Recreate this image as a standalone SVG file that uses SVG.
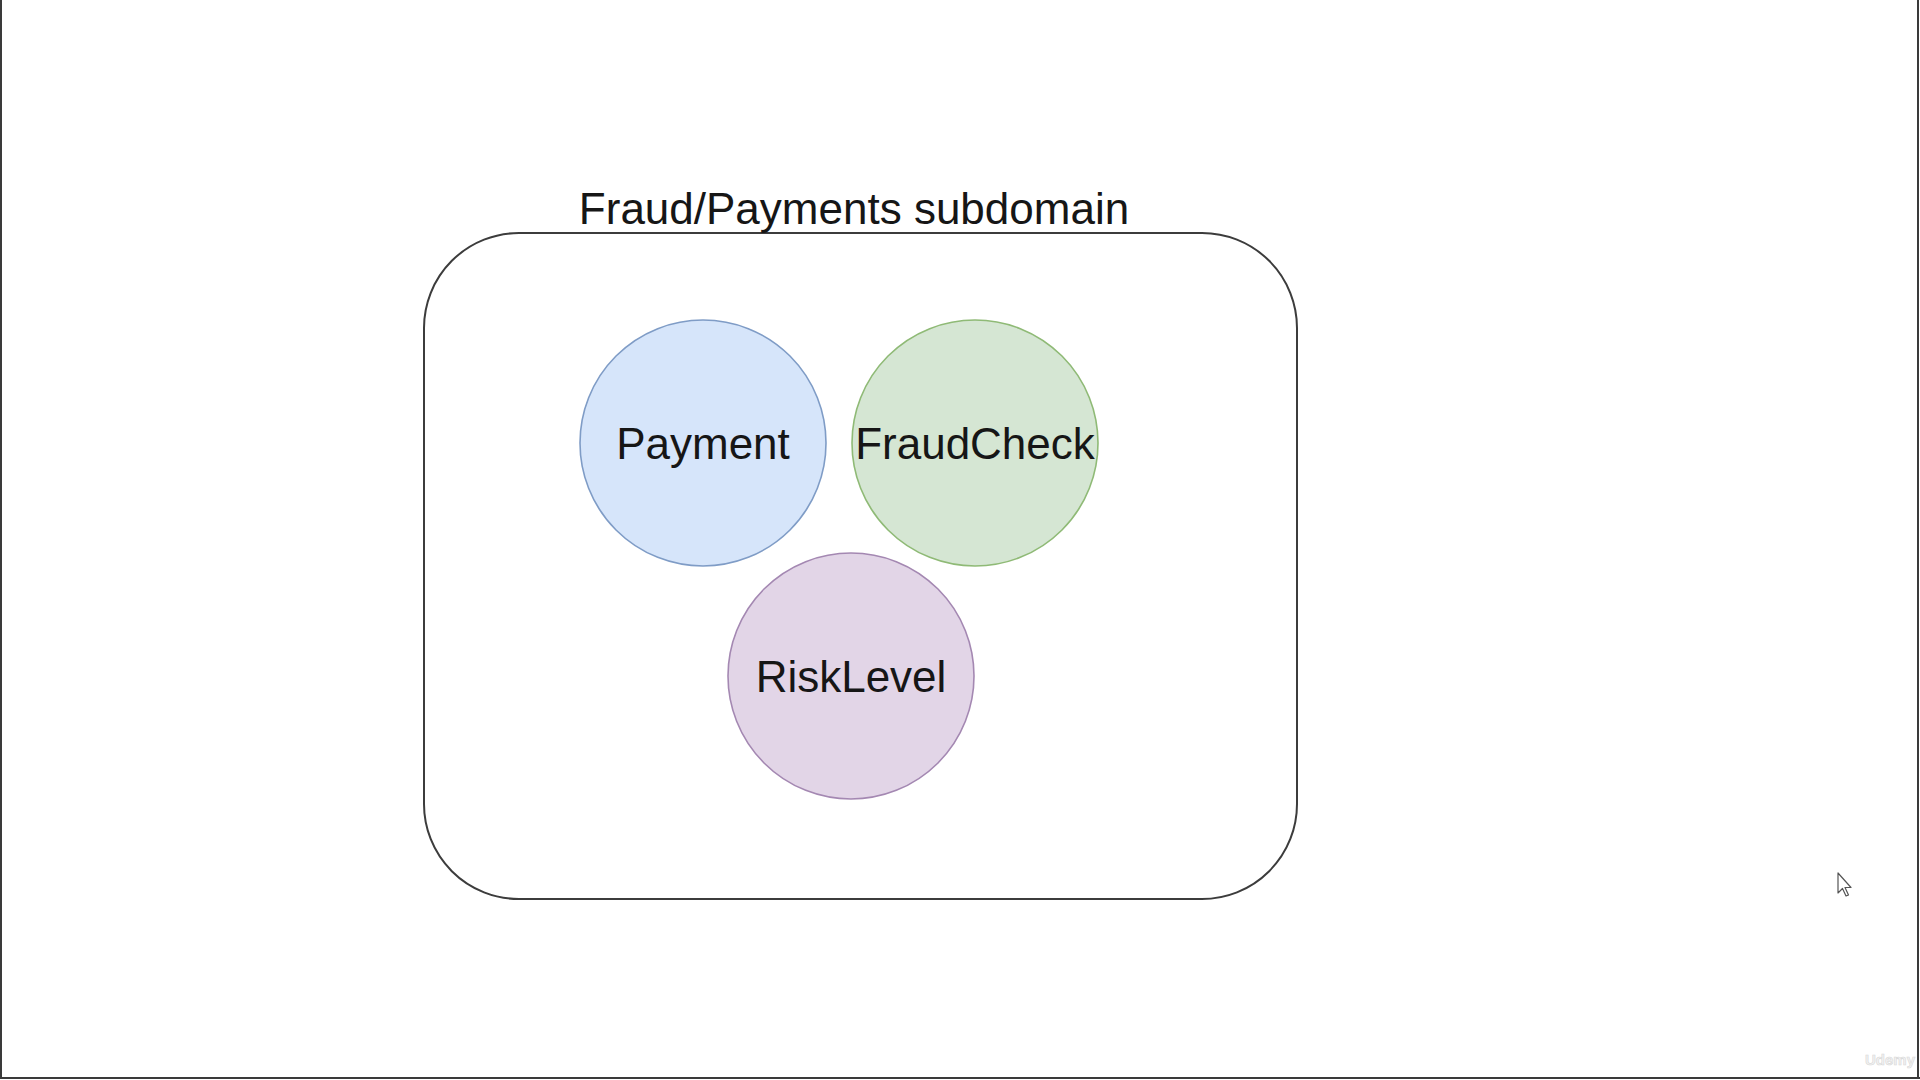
<svg xmlns="http://www.w3.org/2000/svg" width="1920" height="1080" viewBox="0 0 1920 1080">
  <style>
    .lbl { font-family: "Liberation Sans", Arial, sans-serif; font-size: 44px; fill: #161616; text-anchor: middle; }
    .node { stroke-width: 1.6; }
  </style>
  <rect x="0" y="0" width="1920" height="1080" fill="#ffffff"/>
  <g id="frame" stroke="#3a3a3a" stroke-width="2" fill="none">
    <line x1="1" y1="0" x2="1" y2="1078"/>
    <line x1="1918" y1="0" x2="1918" y2="1078"/>
    <line x1="0" y1="1078" x2="1920" y2="1078"/>
  </g>
  <g id="subdomain">
    <rect x="424" y="233" width="873" height="666" rx="95" ry="95" fill="#ffffff" stroke="#3c3c3c" stroke-width="2"/>
    <text class="lbl" x="854" y="224" font-size="45">Fraud/Payments subdomain</text>
  </g>
  <g id="connectors"></g>
  <g id="payment">
    <circle class="node" cx="703" cy="443" r="123" fill="#d6e5fa" stroke="#7f9cc6"/>
    <text class="lbl" x="703" y="459">Payment</text>
  </g>
  <g id="fraudcheck">
    <circle class="node" cx="975" cy="443" r="123" fill="#d5e6d3" stroke="#8fba76"/>
    <text class="lbl" x="975" y="459">FraudCheck</text>
  </g>
  <g id="risklevel">
    <circle class="node" cx="851" cy="676" r="123" fill="#e2d5e7" stroke="#a488b2"/>
    <text class="lbl" x="851" y="692">RiskLevel</text>
  </g>
  <g id="cursor">
    <path d="M1838 873 L1838 893 L1842.5 888.5 L1846 896 L1848.5 895 L1845 887.5 L1851 887.5 Z" fill="#ffffff" stroke="#555555" stroke-width="1.2" stroke-linejoin="round"/>
  </g>
  <g id="watermark">
    <text x="1915" y="1065" font-family="Liberation Sans, Arial, sans-serif" font-size="15" font-weight="bold" fill="#f2f2f2" stroke="#d8d8d8" stroke-width="0.6" text-anchor="end">Udemy</text>
  </g>
</svg>
